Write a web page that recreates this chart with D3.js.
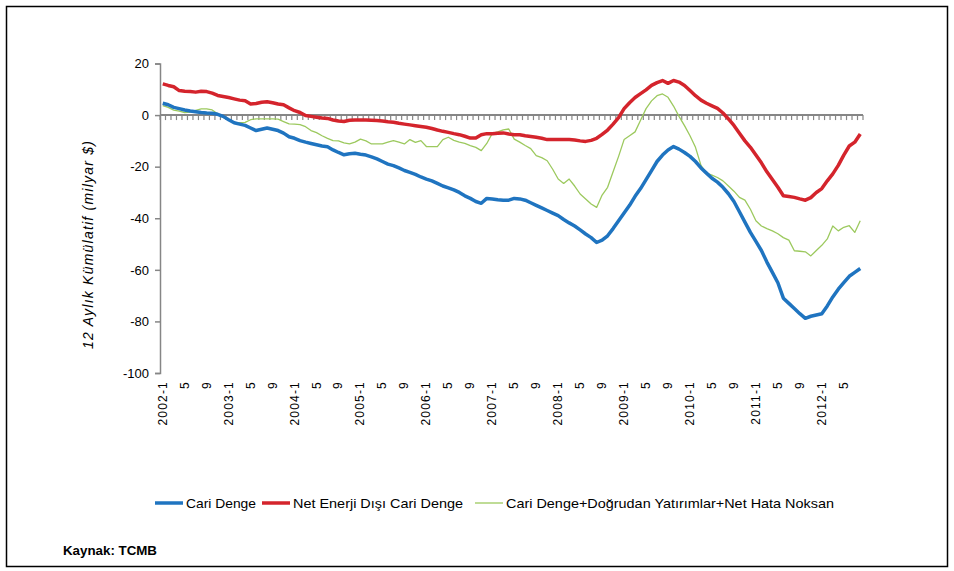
<!DOCTYPE html>
<html>
<head>
<meta charset="utf-8">
<script src="https://cdn.jsdelivr.net/npm/d3@7"></script>
<style>
  body { margin: 0; background: #fff; }
  svg text { font-family: "Liberation Sans", Arial, sans-serif; fill: #000; }
</style>
</head>
<body>
<svg width="954" height="571"></svg>
<script>
// 12 aylik kumulatif, milyar $ -- aylik, 2002-1 .. 2012-8
const startYear = 2002
const monthCount = 128

const cariDenge = [
  4.6, 4.0, 3.0, 2.5, 2.0, 1.6, 1.3, 1.0, 0.8, 0.7, 0.3, -0.5,
  -1.8, -3.0, -3.5, -4.0, -5.0, -6.0, -5.5, -5.0, -5.5, -6.0, -7.0, -8.4,
  -9.0, -9.9, -10.5, -11.0, -11.5, -12.0, -12.3, -13.5, -14.5, -15.4, -15.0, -14.8,
  -15.2, -15.5, -16.2, -17.0, -18.0, -19.0, -19.6, -20.5, -21.5, -22.2, -23.0, -24.0,
  -24.8, -25.5, -26.5, -27.5, -28.2, -29.0, -30.0, -31.3, -32.3, -33.5, -34.2, -32.3,
  -32.5, -32.8, -33.0, -33.0, -32.3, -32.5, -33.0, -34.0, -35.0, -36.0, -37.0, -38.0,
  -39.0, -40.5, -41.8, -43.0, -44.5, -46.1, -47.5, -49.4, -48.5, -46.8, -44.0, -41.0,
  -38.0, -35.0, -31.5, -28.5, -25.0, -21.5, -18.0, -15.5, -13.5, -12.2, -13.2, -14.5,
  -16.0, -18.0, -20.5, -22.5, -24.5, -26.0, -28.0, -30.5, -33.5, -37.5, -41.5, -45.5,
  -49.0, -52.5, -57.0, -61.0, -65.0, -71.0, -73.0, -75.0, -77.0, -78.8, -78.0, -77.5,
  -77.0, -74.0, -70.5, -67.5, -65.0, -62.5, -61.0, -59.5
]

const netEnerjiDisi = [
  12.1, 11.5, 11.0, 9.5, 9.2, 9.1, 8.9, 9.2, 9.1, 8.5, 7.6, 7.2,
  6.8, 6.3, 5.8, 5.6, 4.3, 4.5, 5.0, 5.2, 4.8, 4.3, 4.0, 2.8,
  1.7, 1.0, -0.2, -0.5, -0.8, -1.1, -1.3, -1.9, -2.3, -2.5, -2.0, -1.9,
  -1.9, -1.9, -2.0, -2.1, -2.3, -2.6, -2.8, -3.2, -3.5, -3.8, -4.1, -4.4,
  -4.7, -5.2, -5.8, -6.3, -6.7, -7.2, -7.6, -8.2, -8.9, -8.9, -7.6, -7.2,
  -7.2, -7.0, -6.9, -7.3, -7.6, -7.6, -8.0, -8.3, -8.6, -9.0, -9.5, -9.5,
  -9.5, -9.5, -9.5, -9.7, -10.0, -10.2, -9.8, -9.0, -7.5, -5.8, -3.5, -1.0,
  2.5, 4.8, 6.8, 8.3, 9.8, 11.5, 12.6, 13.4, 12.3, 13.4, 12.8, 11.5,
  9.5, 7.5, 5.8, 4.6, 3.6, 2.6, 0.8, -1.5, -4.0, -7.0, -10.0, -12.5,
  -15.5, -18.5, -22.0, -25.0, -28.0, -31.3, -31.6, -31.9, -32.5, -33.0, -32.0, -30.0,
  -28.5, -25.5, -22.8, -19.5, -15.5, -12.0, -10.5, -7.3
]

const cariDengeDyNh = [
  3.7, 3.0, 1.9, 1.5, 1.0, 1.2, 1.8, 2.4, 2.4, 2.0, 0.5, -0.9,
  -1.8, -2.8, -2.9, -2.8, -1.8, -1.5, -1.5, -1.5, -1.5, -1.6, -2.5, -3.4,
  -3.5, -3.7, -4.5, -6.0, -6.8, -8.0, -9.0, -9.9, -10.0, -10.8, -11.2, -10.5,
  -9.3, -10.0, -11.2, -11.2, -11.2, -10.5, -9.9, -10.5, -11.2, -9.5, -10.6, -9.9,
  -12.2, -12.2, -12.2, -9.5, -8.6, -9.8, -10.5, -11.0, -11.8, -12.5, -13.8, -11.0,
  -7.1, -6.5, -5.7, -5.4, -9.3, -10.5, -11.8, -13.0, -15.7, -16.5, -17.7, -21.0,
  -24.8, -26.5, -24.8, -27.5, -30.6, -32.5, -34.5, -35.8, -31.0, -28.0, -22.0, -16.0,
  -9.5, -8.0, -6.5, -2.0, 2.5, 5.5, 7.5, 8.2, 6.9, 3.5, -0.5, -4.1,
  -8.0, -12.5, -19.5, -22.5, -23.3, -24.2, -25.5, -27.5, -29.5, -31.9, -33.0, -36.5,
  -41.0, -43.0, -44.0, -44.9, -46.0, -47.5, -48.5, -52.6, -52.8, -53.0, -54.6, -52.5,
  -50.5, -48.0, -43.0, -44.9, -43.5, -42.9, -45.5, -41.0
]

const yTicks = [20, 0, -20, -40, -60, -80, -100]
const labelMonths = [1, 5, 9]

const seriesNames = ['Cari Denge', 'Net Enerji Dışı Cari Denge', 'Cari Denge+Doğrudan Yatırımlar+Net Hata Noksan']
const seriesColors = ['#1f74c0', '#d4242c', '#9cc95e']
const seriesWidths = [3.5, 3.5, 1.3]

// aylar: "2002-1" ...
const months = d3.range(monthCount).map(i => ({
  key: (startYear + Math.floor(i / 12)) + '-' + (i % 12 + 1),
  year: startYear + Math.floor(i / 12),
  month: i % 12 + 1
}))

const svg = d3.select('svg')

// cerceve
svg.append('rect')
  .attr('x', 6.5).attr('y', 6.5).attr('width', 941).attr('height', 560)
  .attr('fill', 'none').attr('stroke', '#000').attr('stroke-width', 1.5)

const x = d3.scaleBand().domain(months.map(d => d.key)).range([160, 863])
const y = d3.scaleLinear().domain([-100, 20]).range([373, 63.5])
const cx = k => x(k) + x.bandwidth() / 2

const axisColor = '#868686'

// y ekseni
const yAxis = svg.append('g')
  .attr('transform', 'translate(160,0)')
  .call(d3.axisLeft(y).tickValues(yTicks).tickSize(5).tickPadding(6).tickFormat(d => String(d)))
yAxis.select('.domain').attr('stroke', axisColor).attr('stroke-width', 1.5)
yAxis.selectAll('.tick line').attr('stroke', axisColor).attr('stroke-width', 1.5)
yAxis.selectAll('.tick text').attr('font-size', 13).attr('font-family', '"Liberation Sans", Arial, sans-serif')

// x ekseni sifirda, aylik tik
const xAxis = svg.append('g').attr('transform', `translate(0,${y(0)})`)
xAxis.append('line')
  .attr('x1', 160).attr('x2', 863)
  .attr('stroke', axisColor).attr('stroke-width', 2)
xAxis.selectAll('line.tk')
  .data(d3.range(monthCount + 1))
  .enter().append('line')
  .attr('class', 'tk')
  .attr('x1', i => 160 + i * x.step()).attr('x2', i => 160 + i * x.step())
  .attr('y1', 0).attr('y2', 5)
  .attr('stroke', axisColor).attr('stroke-width', 1.2)

// x etiketleri altta, dikey
svg.append('g').selectAll('text')
  .data(months.filter(d => labelMonths.includes(d.month)))
  .enter().append('text')
  .attr('transform', d => `translate(${cx(d.key) + 4},381) rotate(-90)`)
  .attr('text-anchor', 'end')
  .attr('font-size', 12)
  .attr('letter-spacing', 1.2)
  .text(d => d.month === 1 ? d.key : d.month)

// y ekseni basligi
svg.append('text')
  .attr('transform', 'translate(93,245) rotate(-90)')
  .attr('text-anchor', 'middle')
  .attr('font-size', 14)
  .attr('font-style', 'italic')
  .attr('textLength', 208)
  .attr('lengthAdjust', 'spacing')
  .text('12 Aylık Kümülatif (milyar $)')

// cizgiler
const allSeries = [cariDenge, netEnerjiDisi, cariDengeDyNh]
const line = d3.line().x((d, i) => cx(months[i].key)).y(d => y(d))
;[2, 0, 1].forEach(s => {
  svg.append('path')
    .datum(allSeries[s])
    .attr('d', line)
    .attr('fill', 'none')
    .attr('stroke', seriesColors[s])
    .attr('stroke-width', seriesWidths[s])
    .attr('stroke-linejoin', 'round')
})

// lejant
const legendX = [155, 262, 475]
const legendLen = [70, 170, 328]
const legend = svg.append('g').selectAll('g')
  .data(seriesNames)
  .enter().append('g')
  .attr('transform', (d, i) => `translate(${legendX[i]},503)`)
legend.append('line')
  .attr('x1', 0).attr('x2', 28)
  .attr('stroke', (d, i) => seriesColors[i])
  .attr('stroke-width', (d, i) => seriesWidths[i])
legend.append('text')
  .attr('x', 31).attr('y', 4.5)
  .attr('font-size', 13)
  .attr('textLength', (d, i) => legendLen[i])
  .attr('lengthAdjust', 'spacingAndGlyphs')
  .text(d => d)

// kaynak
svg.append('text')
  .attr('x', 63).attr('y', 555)
  .attr('font-size', 12)
  .attr('font-weight', 'bold')
  .attr('textLength', 94)
  .attr('lengthAdjust', 'spacingAndGlyphs')
  .text('Kaynak: TCMB')
</script>
</body>
</html>
